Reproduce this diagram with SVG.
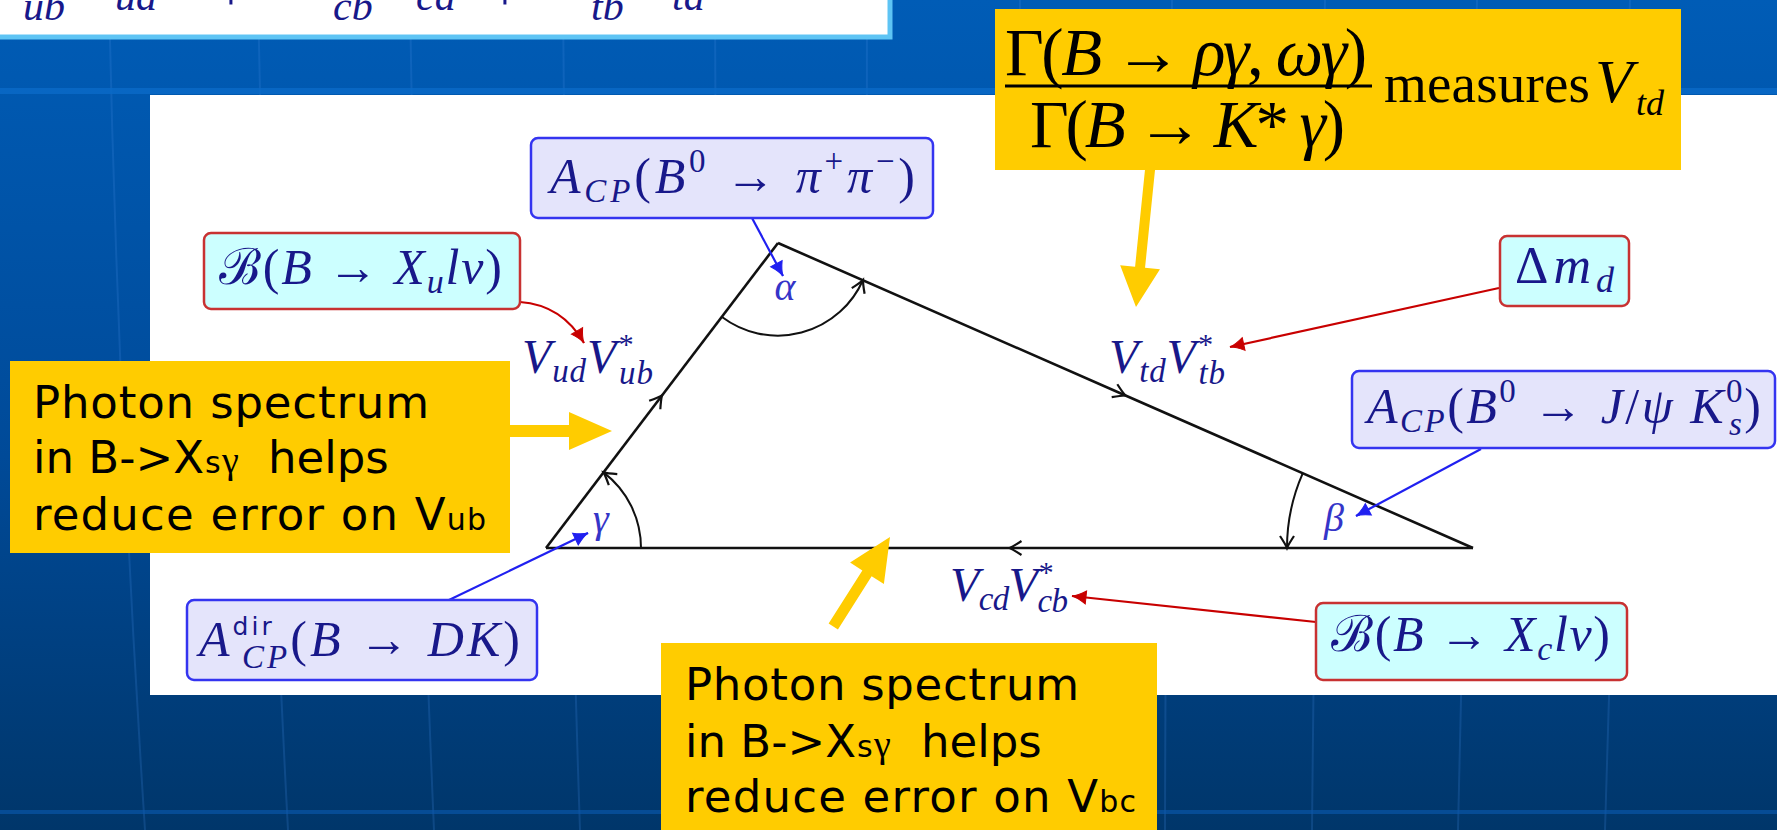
<svg xmlns="http://www.w3.org/2000/svg" width="1777" height="830" viewBox="0 0 1777 830">
<style>
.m{font-family:"Liberation Serif","DejaVu Serif",serif;fill:#18188a}
.i{font-style:italic}
.g{font-family:"Liberation Serif","DejaVu Serif",serif;font-style:italic;fill:#3535c8;font-size:40px}
.y{font-family:"DejaVu Sans",sans-serif;fill:#000;font-size:45px}
.f{font-family:"Liberation Serif","DejaVu Serif",serif;fill:#000}
.rb{fill:#ccffff;stroke:#c83232;stroke-width:2.5}
.bb{fill:#e4e4fb;stroke:#3434f0;stroke-width:2.5}
.edge{fill:none;stroke:#111;stroke-width:2.6}
.arc{fill:none;stroke:#111;stroke-width:2}
.cr{fill:none;stroke:#c80000;stroke-width:2.2}
.cb{fill:none;stroke:#2020f0;stroke-width:2.2}
.yel{fill:#ffcc00}
.bgl{fill:none;stroke:#3f8ae0;stroke-opacity:0.22;stroke-width:2}
</style>
<defs>
<linearGradient id="bg" x1="0" y1="0" x2="0" y2="1">
<stop offset="0" stop-color="#005cb6"/>
<stop offset="0.55" stop-color="#004a98"/>
<stop offset="1" stop-color="#00366a"/>
</linearGradient>
<marker id="to" markerUnits="userSpaceOnUse" orient="auto" overflow="visible" markerWidth="16" markerHeight="16" refX="0" refY="0">
<path d="M-12,-7 Q-3.5,-1.4 0,0 Q-3.5,1.4 -12,7" fill="none" stroke="#111" stroke-width="2.2"/>
</marker>
<marker id="ar" markerUnits="userSpaceOnUse" orient="auto" overflow="visible" markerWidth="16" markerHeight="16" refX="0" refY="0">
<path d="M-14,-6.5 Q-6,-1.2 0,0 Q-6,1.2 -14,6.5 Z" fill="#c80000" stroke="#c80000" stroke-width="1"/>
</marker>
<marker id="ab" markerUnits="userSpaceOnUse" orient="auto" overflow="visible" markerWidth="16" markerHeight="16" refX="0" refY="0">
<path d="M-14,-6.5 Q-6,-1.2 0,0 Q-6,1.2 -14,6.5 Z" fill="#2020f0" stroke="#2020f0" stroke-width="1"/>
</marker>
</defs>

<!-- slide background -->
<rect x="0" y="0" width="1777" height="830" fill="url(#bg)"/>
<g id="bglines">
<path class="bgl" d="M109 0 Q118 415 145 830"/>
<path class="bgl" d="M258 0 Q266 415 288 830"/>
<path class="bgl" d="M410 0 Q416 415 434 830"/>
<path class="bgl" d="M563 0 Q566 415 580 830"/>
<path class="bgl" d="M715 0 Q716 415 726 830"/>
<path class="bgl" d="M867 0 Q866 415 872 830"/>
<path class="bgl" d="M1020 0 Q1016 415 1019 830"/>
<path class="bgl" d="M1172 0 Q1166 415 1165 830"/>
<path class="bgl" d="M1325 0 Q1316 415 1312 830"/>
<path class="bgl" d="M1477 0 Q1466 415 1458 830"/>
<path class="bgl" d="M1630 0 Q1616 415 1605 830"/>
<rect x="0" y="88" width="1777" height="6" fill="#0a6ac8" opacity="0.8"/>
<rect x="0" y="810" width="1777" height="4" fill="#0a5ab0" opacity="0.6"/>
</g>

<!-- top white equation box (cut off) -->
<g id="top-equation">
<rect x="-5" y="-5" width="895" height="42" fill="#fff" stroke="#5ec4f4" stroke-width="5"/>
<g class="m i" font-size="42">
<text x="23" y="20">ub</text>
<text x="115" y="10">ud</text>
<text x="333" y="20">cb</text>
<text x="416" y="10">cd</text>
<text x="591" y="20">tb</text>
<text x="672" y="10">td</text>
</g>
<g class="m" font-size="60" text-anchor="middle">
<text x="231" y="10">+</text>
<text x="505" y="10">+</text>
<text x="866" y="11">=</text>
</g>
</g>

<!-- white panel -->
<rect x="150" y="95" width="1627" height="600" fill="#fff"/>

<!-- triangle -->
<g id="triangle">
<path class="edge" d="M546 548 L662 395.5 L778 243" marker-mid="url(#to)"/>
<path class="edge" d="M778 243 L1125.5 395.5 L1473 548" marker-mid="url(#to)"/>
<path class="edge" d="M1473 548 L1009.5 548 L546 548" marker-mid="url(#to)"/>
<path class="arc" d="M722 317 A93 93 0 0 0 863 280" marker-end="url(#to)"/>
<path class="arc" d="M641 548 A95 95 0 0 0 603.5 472.4" marker-end="url(#to)"/>
<path class="arc" d="M1302.7 473.3 A186 186 0 0 0 1287 548" marker-end="url(#to)"/>
<text class="g" x="785" y="300" text-anchor="middle">α</text>
<text class="g" x="601" y="532" text-anchor="middle">γ</text>
<text class="g" x="1334" y="531" text-anchor="middle">β</text>
</g>

<!-- side labels -->
<g id="label-ud">
<text class="m i" x="522" y="373" font-size="48" textLength="131">V<tspan font-size="33" dy="9">ud</tspan><tspan dy="-9">V</tspan><tspan font-size="30" dy="-19">*</tspan><tspan font-size="33" dx="-14" dy="30">ub</tspan></text>
</g>
<g id="label-td">
<text class="m i" x="1109" y="373" font-size="48" textLength="116">V<tspan font-size="33" dy="9">td</tspan><tspan dy="-9">V</tspan><tspan font-size="30" dy="-19">*</tspan><tspan font-size="33" dx="-14" dy="30">tb</tspan></text>
</g>
<g id="label-cd">
<text class="m i" x="950" y="601" font-size="48" textLength="118">V<tspan font-size="33" dy="9">cd</tspan><tspan dy="-9">V</tspan><tspan font-size="30" dy="-19">*</tspan><tspan font-size="33" dx="-14" dy="30">cb</tspan></text>
</g>

<!-- connectors -->
<g id="connectors">
<path class="cr" d="M520 302 Q562 305 584 343" marker-end="url(#ar)"/>
<path class="cb" d="M752 218 L783 276" marker-end="url(#ab)"/>
<path class="cr" d="M1499 288 L1230 347" marker-end="url(#ar)"/>
<path class="cb" d="M1481 449 L1356 516" marker-end="url(#ab)"/>
<path class="cb" d="M449 600 L588 533" marker-end="url(#ab)"/>
<path class="cr" d="M1316 622 L1072 596" marker-end="url(#ar)"/>
</g>

<!-- measurement boxes -->
<g id="box-bxu">
<rect class="rb" x="204" y="233" width="316" height="76" rx="7"/>
<text class="m" x="219" y="284" font-size="50" textLength="283">ℬ(<tspan class="i">B</tspan> → <tspan class="i">X</tspan><tspan class="i" font-size="34" dy="9">u</tspan><tspan class="i" dy="-9">lν</tspan>)</text>
</g>
<g id="box-acp-pipi">
<rect class="bb" x="531" y="138" width="402" height="80" rx="7"/>
<text class="m" x="550" y="193" font-size="50" textLength="365"><tspan class="i">A</tspan><tspan class="i" font-size="33" dy="9">CP</tspan><tspan dy="-9">(</tspan><tspan class="i">B</tspan><tspan font-size="33" dy="-21">0</tspan><tspan dy="21"> → </tspan><tspan class="i">π</tspan><tspan font-size="33" dy="-21">+</tspan><tspan class="i" dy="21">π</tspan><tspan font-size="33" dy="-21">−</tspan><tspan dy="21">)</tspan></text>
</g>
<g id="box-dmd">
<rect class="rb" x="1500" y="236" width="129" height="70" rx="7"/>
<text class="m" x="1515" y="283" font-size="52" textLength="99">Δ<tspan class="i">m</tspan><tspan class="i" font-size="36" dy="9">d</tspan></text>
</g>
<g id="box-acp-jpsi">
<rect class="bb" x="1352" y="371" width="423" height="77" rx="7"/>
<text class="m" x="1367" y="423" font-size="50" textLength="394"><tspan class="i">A</tspan><tspan class="i" font-size="33" dy="9">CP</tspan><tspan dy="-9">(</tspan><tspan class="i">B</tspan><tspan font-size="33" dy="-21">0</tspan><tspan dy="21"> → </tspan><tspan class="i">J</tspan>/<tspan class="i">ψ</tspan> <tspan class="i">K</tspan><tspan font-size="33" dy="-21">0</tspan><tspan class="i" font-size="33" dx="-16" dy="33">s</tspan><tspan dy="-12">)</tspan></text>
</g>
<g id="box-adir">
<rect class="bb" x="187" y="600" width="350" height="80" rx="7"/>
<text class="m" x="199" y="656" font-size="50" textLength="321"><tspan class="i">A</tspan><tspan font-family="DejaVu Sans" font-size="25" dy="-21">dir</tspan><tspan class="i" font-size="33" dx="-33" dy="33">CP</tspan><tspan dy="-12">(</tspan><tspan class="i">B</tspan> → <tspan class="i">DK</tspan>)</text>
</g>
<g id="box-bxc">
<rect class="rb" x="1316" y="603" width="311" height="77" rx="7"/>
<text class="m" x="1331" y="651" font-size="50" textLength="279">ℬ(<tspan class="i">B</tspan> → <tspan class="i">X</tspan><tspan class="i" font-size="34" dy="9">c</tspan><tspan class="i" dy="-9">lν</tspan>)</text>
</g>

<!-- yellow callouts -->
<g id="callout-vtd">
<rect class="yel" x="995" y="9" width="686" height="161"/>
<polygon class="yel" points="-140,-5 -40,-5 -40,-20 0,0 -40,20 -40,5 -140,5" transform="translate(1136 307) rotate(95.83)"/>
<text class="f" x="1005" y="75" font-size="67" textLength="362">Γ(<tspan class="i">B</tspan> → <tspan class="i">ργ</tspan>, <tspan class="i">ωγ</tspan>)</text>
<line x1="1005" y1="86" x2="1372" y2="86" stroke="#000" stroke-width="3"/>
<text class="f" x="1030" y="147" font-size="67" textLength="315">Γ(<tspan class="i">B</tspan> → <tspan class="i">K</tspan>* <tspan class="i">γ</tspan>)</text>
<text class="f" x="1384" y="102" font-size="55" textLength="206">measures</text>
<text class="f i" x="1595" y="102" font-size="62">V</text>
<text class="f i" x="1636" y="115" font-size="36">td</text>
</g>
<g id="callout-vub">
<rect class="yel" x="10" y="361" width="500" height="192"/>
<polygon class="yel" points="-110,-6 -43,-6 -43,-19 0,0 -43,19 -43,6 -110,6" transform="translate(612 431)"/>
<text class="y" x="33" y="418" textLength="396">Photon spectrum</text>
<text class="y" y="473"><tspan x="33">in B-&gt;X</tspan><tspan x="205" font-size="30">s</tspan><tspan x="222" font-family="Liberation Serif" font-size="38">γ</tspan><tspan x="268">helps</tspan></text>
<text class="y" x="33" y="530" textLength="453">reduce error on V<tspan font-size="30">ub</tspan></text>
</g>
<g id="callout-vbc">
<rect class="yel" x="661" y="643" width="496" height="190"/>
<polygon class="yel" points="-106,-5.5 -43,-5.5 -43,-20 0,0 -43,20 -43,5.5 -106,5.5" transform="translate(890 537) rotate(-57.65)"/>
<text class="y" x="685" y="700" textLength="394">Photon spectrum</text>
<text class="y" y="757"><tspan x="685">in B-&gt;X</tspan><tspan x="857" font-size="30">s</tspan><tspan x="874" font-family="Liberation Serif" font-size="38">γ</tspan><tspan x="921">helps</tspan></text>
<text class="y" x="685" y="812" textLength="451">reduce error on V<tspan font-size="30">bc</tspan></text>
</g>
</svg>
